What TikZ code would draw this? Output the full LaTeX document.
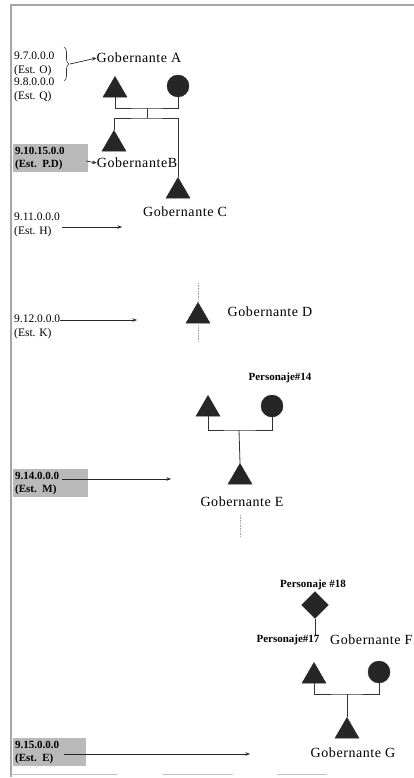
\documentclass[tikz,border=0pt]{standalone}
\usepackage{fontspec}
\setmainfont{Liberation Serif}
\usetikzlibrary{shapes.geometric,arrows.meta,decorations.pathreplacing}
\tikzset{
  male/.style={regular polygon, regular polygon sides=3, minimum size=27.7pt, inner sep=0pt, fill=black!85, draw=black!85, anchor=north},
  female/.style={circle, minimum size=22pt, inner sep=0pt, fill=black!85, draw=black!85},
  unk/.style={diamond, minimum width=27pt, minimum height=27pt, inner sep=0pt, fill=black!85, draw=black!85},
  rule/.style={font=\fontsize{14}{16}\selectfont\addfontfeature{LetterSpace=4}, inner sep=0pt},
  pers/.style={font=\fontsize{11}{12}\selectfont\bfseries, inner sep=0pt},
  date/.style={font=\fontsize{11.5}{14}\selectfont, align=left, inner sep=0pt, anchor=west},
  datebox/.style={font=\fontsize{11}{13}\selectfont\bfseries, align=left, fill=gray!55, text width=71pt, minimum height=28pt, inner xsep=2pt, inner ysep=1pt, anchor=north west},
  kin/.style={draw=black!80, line width=0.8pt},
  arr/.style={draw=black!85, line width=0.7pt, -{Stealth[length=4.5pt,width=3.5pt]}},
  dots/.style={draw=gray!70, line width=0.6pt, densely dotted},
}
\begin{document}
\begin{tikzpicture}[x=1pt,y=-1pt]
\useasboundingbox (0,0) rectangle (414,778);
% frame
\draw[gray!70, line width=1.2pt] (11,777) -- (11,5) -- (414,5);
\draw[gray!50, line width=1pt] (11,774) -- (117,774) (163,774) -- (233,774) (277,774) -- (327,774);

% --- A / B / C ---
\node[date] (d7) at (14,64) {9.7.0.0.0\\(Est. O)};
\node[date] (d8) at (14,90) {9.8.0.0.0\\(Est. Q)};
\draw[black!80, line width=0.6pt, decorate, decoration={brace, amplitude=5pt}] (64,47) -- (64,81);
\coordinate (brA) at (70,64);
\node[rule] (gA) at (139,58) {Gobernante A};
\draw[arr] (brA) -- (gA.west);

\node[male] (tA) at (115,76) {};
\node[female] (cA) at (178,86) {};
\coordinate (jA) at (147,108);
\coordinate (jB) at (147,118);
\draw[kin] (tA.south) |- (jA) -| (cA.south);
\draw[kin] (jA) -- (jB);
\node[male] (tB) at (114,130) {};
\node[male] (tC) at (178,177) {};
\draw[kin] (tB.north) |- (jB) -| (tC.north);
\node[rule] (gB) at (137,163) {GobernanteB};
\node[datebox] (b10) at (13,144) {9.10.15.0.0\\(Est. P.D)};
\coordinate (a10s) at (86,161);
\draw[arr] (a10s) -- (gB.west);
\node[rule] (gC) at (185,212) {Gobernante C};

\node[date] (d11) at (14,225) {9.11.0.0.0\\(Est. H)};
\coordinate (a11s) at (62,227);
\coordinate (a11e) at (122,227);
\draw[arr] (a11s) -- (a11e);

% --- D ---
\node[male] (tD) at (198,302) {};
\coordinate (dDt) at (198,283);
\coordinate (dDb) at (198,341);
\draw[dots] (dDt) -- (tD.north);
\draw[dots] (tD.south) -- (dDb);
\node[rule] (gD) at (270,312) {Gobernante D};
\node[date] (d12) at (14,327) {9.12.0.0.0\\(Est. K)};
\coordinate (a12s) at (60,320);
\coordinate (a12e) at (137,320);
\draw[arr] (a12s) -- (a12e);

% --- E ---
\node[pers] (p14) at (280,378) {Personaje\#14};
\node[male] (tE1) at (208,395) {};
\node[female] (cE) at (272,406) {};
\coordinate (jE) at (239,430);
\draw[kin] (tE1.south) |- (jE) -| (cE.south);
\node[male] (tE) at (240,463) {};
\draw[kin] (jE) -- (tE.north);
\node[rule] (gE) at (242,502) {Gobernante E};
\coordinate (dEb) at (240,537);
\draw[dots] (240,515) -- (dEb);
\node[datebox] (b14) at (13,469) {9.14.0.0.0\\(Est. M)};
\coordinate (a14s) at (62,479);
\coordinate (a14e) at (171,479);
\draw[arr] (a14s) -- (a14e);

% --- F / G ---
\node[pers] (p18) at (313,585) {Personaje \#18};
\node[unk] (dm) at (315,605) {};
\coordinate (p17t) at (315,635);
\draw[kin] (dm.south) -- (p17t);
\node[pers] (p17) at (288,640) {Personaje\#17};
\node[rule, anchor=west] (gF) at (330,640) {Gobernante F};
\node[male] (tF) at (314,662) {};
\node[female] (cF) at (379,672) {};
\coordinate (jF) at (347,694);
\draw[kin] (tF.south) |- (jF) -| (cF.south);
\node[male] (tG) at (347,717) {};
\draw[kin] (jF) -- (tG.north);
\node[rule] (gG) at (353,753) {Gobernante G};
\node[datebox, text width=69pt] (b15) at (13,738) {9.15.0.0.0\\(Est. E)};
\coordinate (a15s) at (64,754);
\coordinate (a15e) at (250,754);
\draw[arr] (a15s) -- (a15e);
\end{tikzpicture}
\end{document}
